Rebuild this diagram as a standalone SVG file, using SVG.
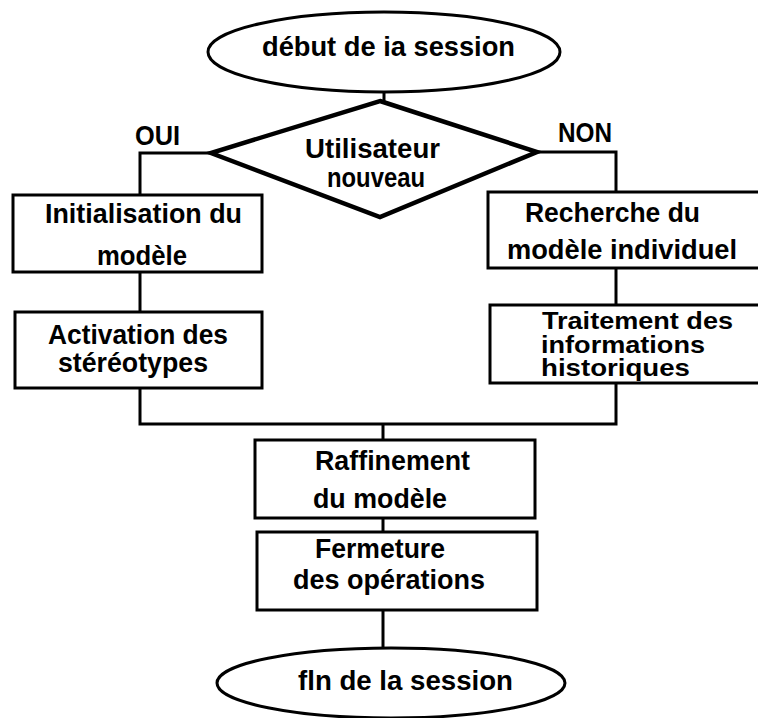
<svg xmlns="http://www.w3.org/2000/svg" width="758" height="718" viewBox="0 0 758 718">
  <style>
    .shape { fill: #ffffff; stroke: #000000; stroke-width: 3; }
    .diamond { fill: #ffffff; stroke: #000000; stroke-width: 4.5; stroke-linejoin: miter; }
    .wire { fill: none; stroke: #000000; stroke-width: 3; }
    text { font-family: "Liberation Sans", Arial, sans-serif; font-weight: bold; font-size: 27px; fill: #000000; }
    .tight { font-size: 24px; }
  </style>
  <rect x="0" y="0" width="758" height="718" fill="#ffffff"/>

  <g id="connectors">
    <path class="wire" d="M384,92 V101"/>
    <path class="wire" d="M212,153 H140 V195"/>
    <path class="wire" d="M536,152 H616 V192"/>
    <path class="wire" d="M140,272 V312"/>
    <path class="wire" d="M616,268 V305"/>
    <path class="wire" d="M140,388 V424 H616 V383"/>
    <path class="wire" d="M383,424 V440"/>
    <path class="wire" d="M383,518 V532"/>
    <path class="wire" d="M383,610 V648"/>
  </g>

  <g id="start">
    <ellipse class="shape" cx="384" cy="52" rx="176" ry="40"/>
    <text x="262" y="56" textLength="253" lengthAdjust="spacingAndGlyphs">début de ia session</text>
  </g>

  <g id="decision">
    <polygon class="diamond" points="380,101 537,152 380,217 211,153"/>
    <text x="305" y="158" textLength="135" lengthAdjust="spacingAndGlyphs">Utilisateur</text>
    <text x="327" y="187" textLength="98" lengthAdjust="spacingAndGlyphs">nouveau</text>
  </g>

  <g id="label-oui">
    <text x="135" y="145" textLength="45" lengthAdjust="spacingAndGlyphs">OUI</text>
  </g>
  <g id="label-non">
    <text x="558" y="142" textLength="54" lengthAdjust="spacingAndGlyphs">NON</text>
  </g>

  <g id="init-model">
    <rect class="shape" x="13" y="195" width="249" height="77"/>
    <text x="45" y="223" textLength="197" lengthAdjust="spacingAndGlyphs">Initialisation du</text>
    <text x="97" y="265" textLength="90" lengthAdjust="spacingAndGlyphs">modèle</text>
  </g>

  <g id="stereotypes">
    <rect class="shape" x="15" y="312" width="247" height="76"/>
    <text x="48" y="344" textLength="180" lengthAdjust="spacingAndGlyphs">Activation des</text>
    <text x="58" y="372" textLength="150" lengthAdjust="spacingAndGlyphs">stéréotypes</text>
  </g>

  <g id="search-model">
    <rect class="shape" x="488" y="192" width="290" height="76"/>
    <text x="525" y="222" textLength="175" lengthAdjust="spacingAndGlyphs">Recherche du</text>
    <text x="507" y="259" textLength="230" lengthAdjust="spacingAndGlyphs">modèle individuel</text>
  </g>

  <g id="history">
    <rect class="shape" x="490" y="305" width="290" height="78"/>
    <text class="tight" x="542" y="329" textLength="191" lengthAdjust="spacingAndGlyphs">Traitement des</text>
    <text class="tight" x="541" y="353" textLength="164" lengthAdjust="spacingAndGlyphs">informations</text>
    <text class="tight" x="541" y="376" textLength="149" lengthAdjust="spacingAndGlyphs">historiques</text>
  </g>

  <g id="refine">
    <rect class="shape" x="255" y="440" width="280" height="78"/>
    <text x="315" y="470" textLength="155" lengthAdjust="spacingAndGlyphs">Raffinement</text>
    <text x="313" y="508" textLength="134" lengthAdjust="spacingAndGlyphs">du modèle</text>
  </g>

  <g id="close-ops">
    <rect class="shape" x="257" y="532" width="280" height="78"/>
    <text x="315" y="558" textLength="130" lengthAdjust="spacingAndGlyphs">Fermeture</text>
    <text x="293" y="589" textLength="192" lengthAdjust="spacingAndGlyphs">des opérations</text>
  </g>

  <g id="end">
    <ellipse class="shape" cx="391" cy="683" rx="174" ry="35"/>
    <text x="298" y="690" textLength="215" lengthAdjust="spacingAndGlyphs">fln de la session</text>
  </g>
</svg>
